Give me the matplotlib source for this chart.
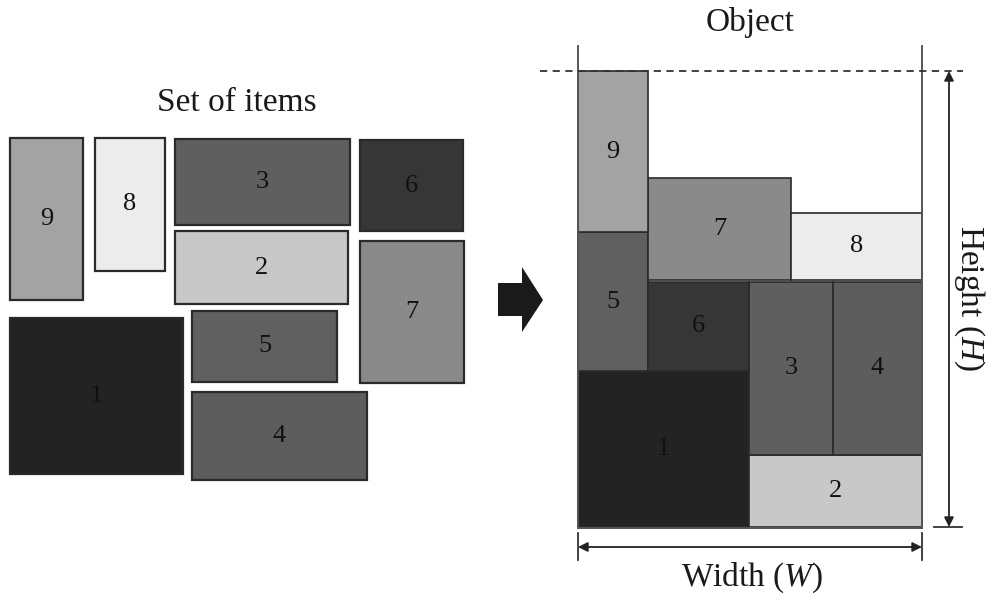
import matplotlib
matplotlib.use("Agg")
import matplotlib.pyplot as plt
from matplotlib.patches import Rectangle, Polygon

plt.rcParams['font.family'] = ['Liberation Serif', 'DejaVu Serif']
plt.rcParams['mathtext.fontset'] = 'custom'
plt.rcParams['mathtext.rm'] = 'Liberation Serif'
plt.rcParams['mathtext.it'] = 'Liberation Serif:italic'

# Items: id, fill colour
item_ids = ["1", "2", "3", "4", "5", "6", "7", "8", "9"]
item_colors = ["#232323", "#c8c8c8", "#5f5f5f", "#5d5d5d", "#606060",
               "#363636", "#8a8a8a", "#ececec", "#a3a3a3"]

# Loose set of items (left): x0, y0, x1, y1 in drawing units
set_x0 = [10, 175, 175, 192, 192, 360, 360, 95, 10]
set_y0 = [318, 231, 139, 392, 311, 140, 241, 138, 138]
set_x1 = [183, 348, 350, 367, 337, 463, 464, 165, 83]
set_y1 = [474, 304, 225, 480, 382, 231, 383, 271, 300]

# Packed object (right): x0, y0, x1, y1
pack_x0 = [578, 749, 749, 833, 578, 648, 648, 791, 578]
pack_y0 = [371, 455, 282, 282, 232, 282, 178, 213, 71]
pack_x1 = [749, 922, 833, 922, 648, 749, 791, 922, 648]
pack_y1 = [527, 527, 455, 455, 371, 371, 280, 280, 232]

fig = plt.figure(figsize=(9.92, 6.0), dpi=100)
ax = fig.add_axes([0, 0, 1, 1])
ax.set_xlim(0, 992)
ax.set_ylim(600, 0)
ax.axis("off")

def draw_items(x0s, y0s, x1s, y1s, lw):
    for i, c in enumerate(item_colors):
        r = Rectangle((x0s[i], y0s[i]), x1s[i] - x0s[i], y1s[i] - y0s[i],
                      facecolor=c, edgecolor="#2a2a2a", linewidth=lw)
        ax.add_patch(r)
        ax.text((x0s[i] + x1s[i]) / 2, (y0s[i] + y1s[i]) / 2, item_ids[i],
                ha="center", va="center", fontsize=19, color="#111111")

draw_items(set_x0, set_y0, set_x1, set_y1, 1.6)
draw_items(pack_x0, pack_y0, pack_x1, pack_y1, 1.2)

# Titles
ax.text(237, 103, "Set of items", ha="center", va="center", fontsize=24, color="#1a1a1a")
ax.text(750, 22, "Object", ha="center", va="center", fontsize=24, color="#1a1a1a")

# Object walls
ax.plot([578, 578], [46, 528], color="#555555", lw=1.4)
ax.plot([922, 922], [46, 528], color="#555555", lw=1.4)
ax.plot([578, 922], [528, 528], color="#555555", lw=1.4)

# Dashed height line
ax.plot([540, 963], [71, 71], color="#333333", lw=1.3, ls=(0, (4, 3)))

# Height arrow
ax.annotate("", xy=(949, 71), xytext=(949, 527),
            arrowprops=dict(arrowstyle="<|-|>", color="#222222", lw=1.3,
                            mutation_scale=14, shrinkA=0, shrinkB=0))
ax.plot([934, 962], [527, 527], color="#333333", lw=1.3)
ax.text(969, 298, r"Height ($\mathit{H}$)", ha="center", va="center", fontsize=24,
        rotation=-90, color="#1a1a1a")

# Width arrow
ax.annotate("", xy=(578, 547), xytext=(922, 547),
            arrowprops=dict(arrowstyle="<|-|>", color="#222222", lw=1.3,
                            mutation_scale=14, shrinkA=0, shrinkB=0))
ax.plot([578, 578], [533, 560], color="#333333", lw=1.3)
ax.plot([922, 922], [533, 560], color="#333333", lw=1.3)
ax.text(752, 578, r"Width ($\mathit{W}$)", ha="center", va="center", fontsize=24,
        color="#1a1a1a")

# Big right arrow
ax.add_patch(Polygon([(498, 283), (522, 283), (522, 267), (543, 300),
                      (522, 332), (522, 316), (498, 316)],
                     closed=True, facecolor="#1a1a1a", edgecolor="none"))

fig.savefig("out.png", dpi=100)
